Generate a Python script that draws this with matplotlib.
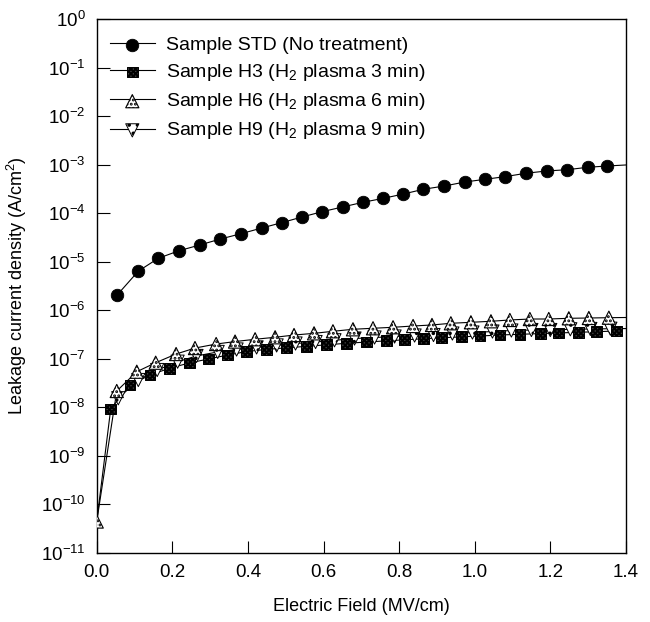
import matplotlib
matplotlib.use("Agg")
import matplotlib.pyplot as plt
from matplotlib.legend_handler import HandlerTuple

plt.rcParams['font.family'] = ['Liberation Sans', 'DejaVu Sans']
plt.rcParams['mathtext.fontset'] = 'custom'
plt.rcParams['mathtext.rm'] = 'Liberation Sans'
plt.rcParams['mathtext.it'] = 'Liberation Sans'
plt.rcParams['mathtext.default'] = 'regular'
plt.rcParams['hatch.linewidth'] = 1.4

# Sample STD (no treatment)
std_x = [0.054, 0.110, 0.163, 0.218, 0.272, 0.327, 0.382, 0.437, 0.489, 0.543,
         0.597, 0.651, 0.704, 0.758, 0.811, 0.864, 0.920, 0.974, 1.027, 1.080,
         1.135, 1.190, 1.245, 1.299, 1.351]
std_y = [2.06e-6, 6.4e-6, 1.18e-5, 1.69e-5, 2.21e-5, 2.94e-5, 3.79e-5, 4.97e-5,
         6.38e-5, 8.37e-5, 1.08e-4, 1.35e-4, 1.68e-4, 2.03e-4, 2.49e-4, 3.12e-4,
         3.65e-4, 4.41e-4, 5.01e-4, 5.68e-4, 6.67e-4, 7.44e-4, 7.91e-4, 8.87e-4,
         9.44e-4]

# Sample H3 (H2 plasma 3 min); first point sits under the H6 triangle at 0
h3_x = [0.0, 0.037, 0.088, 0.141, 0.192, 0.245, 0.295, 0.346, 0.397, 0.450,
        0.503, 0.555, 0.608, 0.661, 0.714, 0.767, 0.815, 0.864, 0.912, 0.965,
        1.014, 1.067, 1.120, 1.173, 1.221, 1.274, 1.322, 1.375]
h3_y = [4.4e-11, 9.19e-9, 2.87e-8, 4.61e-8, 6.35e-8, 8.17e-8, 9.87e-8, 1.19e-7,
        1.41e-7, 1.56e-7, 1.68e-7, 1.80e-7, 1.94e-7, 2.08e-7, 2.21e-7, 2.34e-7,
        2.46e-7, 2.58e-7, 2.70e-7, 2.83e-7, 2.94e-7, 3.09e-7, 3.19e-7, 3.30e-7,
        3.40e-7, 3.51e-7, 3.61e-7, 3.73e-7]

# Sample H6 (H2 plasma 6 min)
h6_x = [0.0, 0.053, 0.106, 0.156, 0.210, 0.260, 0.316, 0.366, 0.419, 0.472,
        0.522, 0.575, 0.625, 0.678, 0.731, 0.784, 0.837, 0.887, 0.937, 0.990,
        1.043, 1.093, 1.146, 1.196, 1.249, 1.302, 1.355]
h6_y = [4.4e-11, 2.16e-8, 5.40e-8, 8.28e-8, 1.25e-7, 1.66e-7, 2.01e-7, 2.26e-7,
        2.52e-7, 2.77e-7, 3.08e-7, 3.34e-7, 3.68e-7, 4.05e-7, 4.25e-7, 4.45e-7,
        4.73e-7, 4.97e-7, 5.38e-7, 5.64e-7, 5.92e-7, 6.30e-7, 6.59e-7, 6.60e-7,
        6.82e-7, 6.92e-7, 7.02e-7]

# Sample H9 (H2 plasma 9 min)
h9_x = [0.057, 0.110, 0.160, 0.214, 0.264, 0.320, 0.370, 0.423, 0.476, 0.526,
        0.579, 0.629, 0.682, 0.735, 0.788, 0.841, 0.891, 0.941, 0.994, 1.047,
        1.097, 1.150, 1.200, 1.253, 1.306, 1.359]
h9_y = [1.53e-8, 3.64e-8, 5.85e-8, 8.69e-8, 1.14e-7, 1.38e-7, 1.55e-7, 1.71e-7,
        1.88e-7, 2.06e-7, 2.21e-7, 2.40e-7, 2.61e-7, 2.74e-7, 2.87e-7, 3.01e-7,
        3.08e-7, 3.31e-7, 3.47e-7, 3.64e-7, 3.82e-7, 3.91e-7, 3.91e-7, 4.05e-7,
        4.11e-7, 4.16e-7]

# where the lines leave the frame on the right
edge_x = 1.41
std_edge, h6_edge, h9_edge = 1.0e-3, 7.1e-7, 4.2e-7

labels = ["Sample STD (No treatment)",
          "Sample H3 (H$_2$ plasma 3 min)",
          "Sample H6 (H$_2$ plasma 6 min)",
          "Sample H9 (H$_2$ plasma 9 min)"]

fig = plt.figure(figsize=(6.5, 6.22), dpi=100)
ax = fig.add_axes([0.1488, 0.1114, 0.8141, 0.8576])

lw = 0.8
l_std, = ax.plot(std_x + [edge_x], std_y + [std_edge], color='black', lw=lw, zorder=2)
s_std = ax.scatter(std_x, std_y, s=9.0**2, marker='o', facecolor='black',
                   edgecolor='black', linewidths=0.6, zorder=4)

l_h9, = ax.plot(h9_x + [edge_x], h9_y + [h9_edge], color='black', lw=lw, zorder=2)
s_h9 = ax.scatter(h9_x, h9_y, s=9.5**2, marker='v', facecolor='white',
                  edgecolor='black', linewidths=0.7, hatch='..', zorder=3)

l_h3, = ax.plot(h3_x, h3_y, color='black', lw=lw, zorder=2)
s_h3 = ax.scatter(h3_x[1:], h3_y[1:], s=7.8**2, marker='s', facecolor='#404040',
                  edgecolor='black', linewidths=0.7, hatch='xxxxxxx', zorder=3)

l_h6, = ax.plot(h6_x + [edge_x], h6_y + [h6_edge], color='black', lw=lw, zorder=2)
s_h6 = ax.scatter(h6_x, h6_y, s=9.5**2, marker='^', facecolor='white',
                  edgecolor='black', linewidths=0.8, hatch='....', zorder=3)

ax.set_yscale('log')
ax.set_xlim(0, 1.4)
ax.set_ylim(1e-11, 1)

yt = [10.0 ** e for e in range(-11, 1)]
ax.set_yticks(yt)
ax.set_yticklabels(['$10^{%d}$' % e for e in range(-11, 1)])
ax.minorticks_off()
xt = [0.0, 0.2, 0.4, 0.6, 0.8, 1.0, 1.2, 1.4]
ax.set_xticks(xt)
ax.set_xticklabels(['%.1f' % v for v in xt])

ax.tick_params(direction='in', length=9, width=0.8, labelsize=13.5, pad=8,
               top=False, right=False)
for sp in ax.spines.values():
    sp.set_linewidth(1.0)

ax.set_xlabel("Electric Field (MV/cm)", fontsize=13)
ax.set_ylabel("Leakage current density (A/cm$^2$)", fontsize=13)
ax.xaxis.set_label_coords(0.5, -0.085)
ax.yaxis.set_label_coords(-0.128, 0.5)

ax.legend([(l_std, s_std), (l_h3, s_h3), (l_h6, s_h6), (l_h9, s_h9)], labels,
          handler_map={tuple: HandlerTuple(ndivide=1)},
          loc='upper left', bbox_to_anchor=(0.025, 0.968), frameon=False,
          fontsize=14, handlelength=2.3, handletextpad=0.6, labelspacing=0.42,
          borderpad=0, borderaxespad=0, scatterpoints=1)

fig.savefig("out.png", dpi=100)
